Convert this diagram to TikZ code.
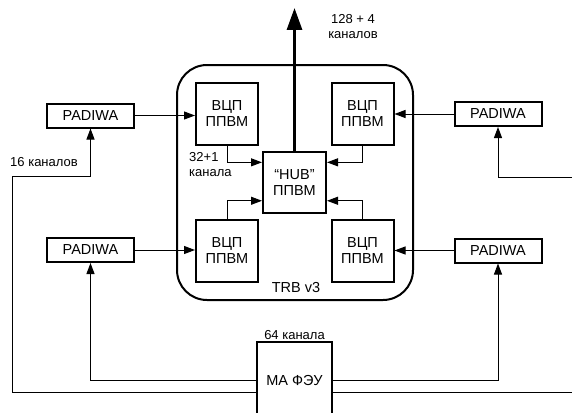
\documentclass[tikz,border=0pt]{standalone}
\usepackage{fontspec}
\setmainfont{Liberation Sans}
\usetikzlibrary{arrows.meta, positioning, calc}

\begin{document}
\begin{tikzpicture}[
    x=1pt, y=-1pt,
    fpga/.style={rectangle, draw=black, line width=2pt, align=center, minimum width=62pt, minimum height=62pt, font=\fontsize{14.5}{16}\selectfont},
    padiwa/.style={rectangle, draw=black, line width=2pt, minimum width=87pt, minimum height=24pt, inner sep=0pt, font=\fontsize{14.5}{16}\selectfont},
    board/.style={rectangle, rounded corners=30pt, draw=black, line width=2pt, minimum width=236pt, minimum height=235pt},
    lbl/.style={align=center, inner sep=0pt, font=\fontsize{13}{15}\selectfont},
    arrow/.style={-{Triangle[length=11pt, width=8pt]}, line width=1pt},
    link/.style={line width=1pt}
]
\clip (0,0) rectangle (572,412);

\node[board] (trb) at (295,182.5) {};
\node[lbl, font=\fontsize{14.5}{16}\selectfont] (trbname) at (296,288) {TRB v3};

\node[fpga, minimum width=63pt, minimum height=61pt] (hub) at (294.5,182.5) {“HUB”\\ППВМ};
\node[fpga] (v1) at (227,114) {ВЦП\\ППВМ};
\node[fpga] (v2) at (362.5,114) {ВЦП\\ППВМ};
\node[fpga] (v3) at (227,250.5) {ВЦП\\ППВМ};
\node[fpga] (v4) at (362.5,250.5) {ВЦП\\ППВМ};

\node[padiwa] (pl1) at (90.5,115.5) {PADIWA};
\node[padiwa] (pr1) at (498,114) {PADIWA};
\node[padiwa] (pl2) at (90.5,250) {PADIWA};
\node[padiwa] (pr2) at (498,250.5) {PADIWA};

\node[fpga, minimum width=75pt, minimum height=78pt] (feu) at (294.5,381) {МА ФЭУ};
\node[lbl, above=1pt of feu] (n64) {64 канала};

\node[lbl] (nout) at (353,27) {128 + 4\\каналов};
\node[lbl] (n16) at (44,162) {16 каналов};
\node[lbl, align=left, anchor=west] (n32) at (189,165) {32+1\\канала};

\coordinate (out) at (294.5,8);
\coordinate (bend1) at (12,176);
\coordinate (edge1) at (580,392);
\coordinate (edge2) at (580,177);

% output of the board
\draw[line width=3pt, -{Triangle[length=22pt, width=15pt]}] (hub.north) -- (out);

% TDC FPGAs to hub
\draw[arrow] (v1.south) |- ($(hub.north west)!.18!(hub.south west)$);
\draw[arrow] (v2.south) |- ($(hub.north east)!.18!(hub.south east)$);
\draw[arrow] (v3.north) |- ($(hub.north west)!.79!(hub.south west)$);
\draw[arrow] (v4.north) |- ($(hub.north east)!.79!(hub.south east)$);

% PADIWA to TDC
\draw[arrow] (pl1.east) -- (pl1.east -| v1.west);
\draw[arrow] (pr1.west) -- (pr1.west -| v2.east);
\draw[arrow] (pl2.east) -- (pl2.east -| v3.west);
\draw[arrow] (pr2.west) -- (pr2.west -| v4.east);

% PMT to PADIWA
\draw[arrow] ($(feu.west)+(0,-1)$) -| (pl2.south);
\draw[arrow] ($(feu.west)+(0,11)$) -| (bend1) -| (pl1.south);
\draw[arrow] ($(feu.east)+(0,-1)$) -| (pr2.south);
\draw[link] ($(feu.east)+(0,11)$) -- (edge1);
\draw[arrow] (edge2) -| (pr1.south);

\end{tikzpicture}
\end{document}
